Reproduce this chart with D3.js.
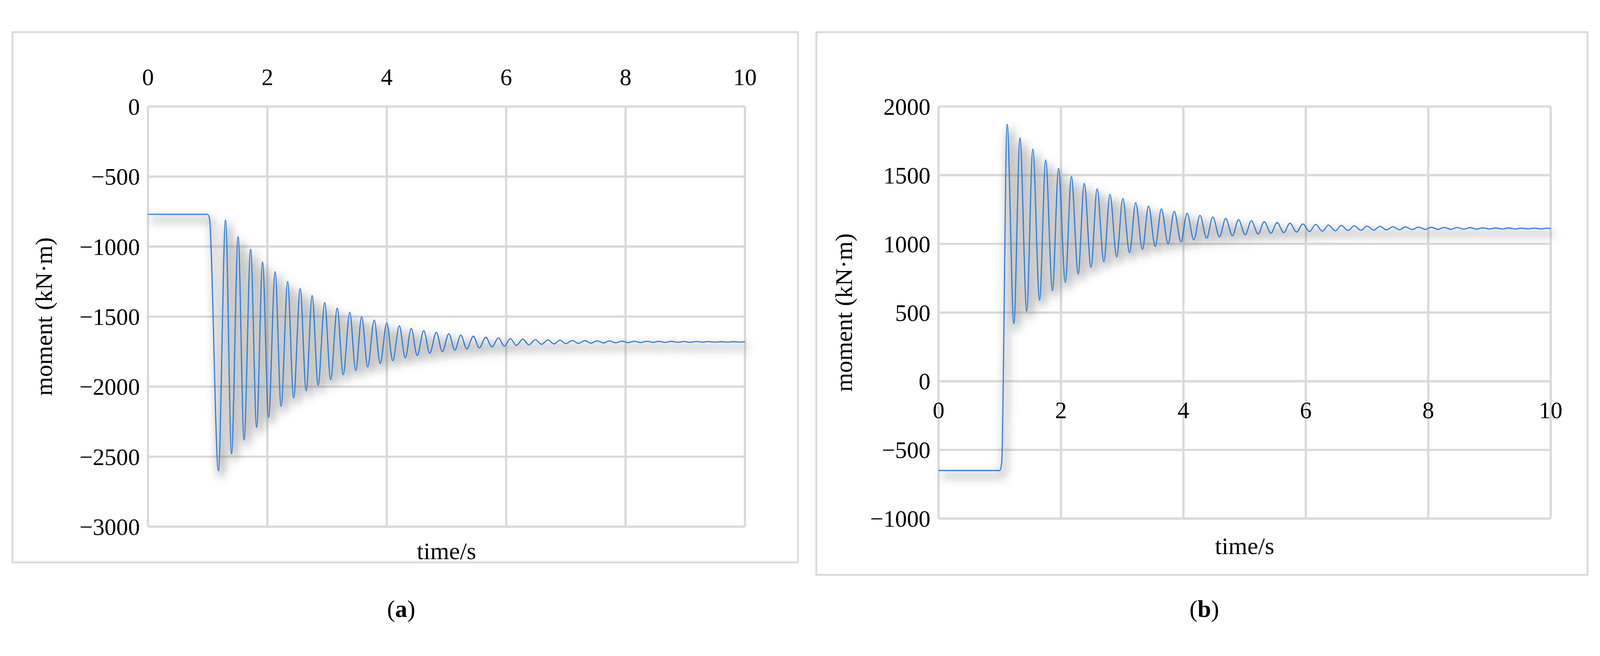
<!DOCTYPE html>
<html><head><meta charset="utf-8">
<script src="https://cdn.jsdelivr.net/npm/d3@7"></script>
<style>html,body{margin:0;padding:0;background:#fff;overflow:hidden}svg{display:block;width:100vw;height:100vh}text{font-family:"Liberation Serif","DejaVu Serif",serif;fill:#000}</style>
</head><body><svg id="c" viewBox="0 0 4347 1680" preserveAspectRatio="xMidYMid meet"></svg>
<script>
// ---- data ----
const xTicks=[0,2,4,6,8,10];
const yTicksA=[0,-500,-1000,-1500,-2000,-2500,-3000];
const yTicksB=[2000,1500,1000,500,0,-500,-1000];
// panel (a)
const preA_t=[0,1.0,1.03], preA_v=[-770,-770,-800];
const troughA_t=[1.18,1.40,1.61,1.82,2.02,2.23,2.44,2.65,2.85,3.06,3.27,3.48,3.68,3.89,4.10,4.31,4.51,4.72,4.93,5.14,5.34,5.55,5.76,5.97,6.17,6.38,6.59,6.80,7.00,7.21,7.42,7.63,7.83,8.04,8.25,8.46,8.66,8.87,9.08,9.29,9.49,9.70,9.91];
const troughA_v=[-2600,-2480,-2380,-2290,-2220,-2140,-2080,-2030,-1990,-1950,-1915,-1885,-1860,-1835,-1815,-1795,-1778,-1763,-1750,-1740,-1731,-1723,-1717,-1711,-1706,-1702,-1698,-1695,-1693,-1691,-1689,-1688,-1687,-1686,-1685,-1684,-1684,-1683,-1683,-1682,-1682,-1682,-1682];
const peakA_t=[1.30,1.51,1.72,1.92,2.13,2.34,2.55,2.75,2.96,3.17,3.38,3.58,3.79,4.00,4.21,4.41,4.62,4.83,5.04,5.24,5.45,5.66,5.87,6.07,6.28,6.49,6.70,6.90,7.11,7.32,7.53,7.73,7.94,8.15,8.36,8.56,8.77,8.98,9.19,9.39,9.60,9.81];
const peakA_v=[-810,-930,-1020,-1110,-1180,-1250,-1300,-1350,-1400,-1440,-1470,-1500,-1525,-1545,-1565,-1585,-1600,-1612,-1622,-1632,-1640,-1647,-1652,-1657,-1661,-1664,-1667,-1669,-1671,-1672,-1673,-1674,-1675,-1676,-1676,-1677,-1677,-1678,-1678,-1678,-1679,-1679];
const endA_t=[10], endA_v=[-1680];
// panel (b)
const preB_t=[0,1.0,1.03], preB_v=[-650,-650,-600];
const peakB_t=[1.12,1.33,1.54,1.75,1.96,2.17,2.38,2.59,2.80,3.01,3.22,3.43,3.64,3.85,4.06,4.27,4.48,4.69,4.90,5.11,5.32,5.53,5.74,5.95,6.16,6.37,6.58,6.79,7.00,7.21,7.42,7.63,7.84,8.05,8.26,8.47,8.68,8.89,9.10,9.31,9.52,9.73,9.94];
const peakB_v=[1870,1770,1690,1610,1550,1490,1440,1400,1360,1330,1300,1275,1255,1238,1222,1208,1196,1185,1176,1168,1161,1155,1150,1145,1141,1137,1134,1131,1129,1127,1125,1123,1122,1121,1120,1119,1118,1117,1116,1116,1115,1115,1114];
const troughB_t=[1.23,1.44,1.65,1.86,2.07,2.28,2.49,2.70,2.91,3.12,3.33,3.54,3.75,3.96,4.17,4.38,4.59,4.80,5.01,5.22,5.43,5.64,5.85,6.06,6.27,6.48,6.69,6.90,7.11,7.32,7.53,7.74,7.95,8.16,8.37,8.58,8.79,9.00,9.21,9.42,9.63,9.84];
const troughB_v=[420,510,590,660,720,780,830,870,905,935,960,982,1000,1015,1029,1041,1051,1059,1066,1072,1077,1082,1086,1089,1092,1095,1097,1099,1100,1102,1103,1104,1105,1106,1106,1107,1107,1108,1108,1108,1109,1109];
const endB_t=[10], endB_v=[1112];

function merge(...pairs){const p=[];pairs.forEach(([t,v])=>t.forEach((x,i)=>p.push([x,v[i]])));return p.sort((a,b)=>a[0]-b[0]);}
const dataA=merge([preA_t,preA_v],[troughA_t,troughA_v],[peakA_t,peakA_v],[endA_t,endA_v]);
const dataB=merge([preB_t,preB_v],[peakB_t,peakB_v],[troughB_t,troughB_v],[endB_t,endB_v]);

const svg=d3.select("#c");
const defs=svg.append("defs");
const f=defs.append("filter").attr("id","sh").attr("x","-10%").attr("y","-10%").attr("width","130%").attr("height","130%");
f.append("feGaussianBlur").attr("stdDeviation",13);

const grid="#d9d9d9";
function panel(o){
  svg.append("rect").attr("x",o.box[0]).attr("y",o.box[1]).attr("width",o.box[2]).attr("height",o.box[3]).attr("fill","none").attr("stroke",grid).attr("stroke-width",5);
  const x=d3.scaleLinear().domain([0,10]).range([o.l,o.r]);
  const y=d3.scaleLinear().domain(o.yd).range([o.b,o.t]);
  const g=svg.append("g");
  g.selectAll(".vg").data(xTicks).join("line").attr("x1",d=>x(d)).attr("x2",d=>x(d)).attr("y1",o.t).attr("y2",o.b).attr("stroke",grid).attr("stroke-width",6);
  g.selectAll(".hg").data(o.yt).join("line").attr("x1",o.l).attr("x2",o.r).attr("y1",d=>y(d)).attr("y2",d=>y(d)).attr("stroke",grid).attr("stroke-width",6);
  g.selectAll(".yl").data(o.yt).join("text").attr("x",o.l-22).attr("y",d=>y(d)).attr("dy","0.35em").attr("text-anchor","end").attr("font-size",64).text(d=>d<0?"\u2212"+(-d):d);
  g.selectAll(".xl").data(xTicks).join("text").attr("x",d=>x(d)).attr("y",o.xly).attr("text-anchor","middle").attr("font-size",64).text(d=>d);
  const line=d3.line().x(d=>x(d[0])).y(d=>y(d[1])).curve(d3.curveMonotoneX);
  g.append("path").datum(o.data).attr("d",line).attr("fill","none").attr("stroke","#555").attr("stroke-width",7).attr("opacity",0.75).attr("transform","translate(8,14)").attr("filter","url(#sh)");
  g.append("path").datum(o.data).attr("d",line).attr("fill","none").attr("stroke","#2b7bd6").attr("stroke-width",3);
  g.append("text").attr("transform",`translate(${o.ytx},${(o.t+o.b)/2}) rotate(-90)`).attr("text-anchor","middle").attr("dy","0.35em").attr("font-size",66).text("moment (kN·m)");
  g.append("text").attr("x",(o.l+o.r)/2).attr("y",o.xty).attr("text-anchor","middle").attr("font-size",66).text("time/s");
  const cap=g.append("text").attr("x",o.capx).attr("y",1625).attr("text-anchor","middle").attr("font-size",66);
  cap.append("tspan").text("(");cap.append("tspan").attr("font-weight","bold").text(o.cap);cap.append("tspan").text(")");
}
panel({box:[34,36,2134,1441],l:402,r:2024,t:238,b:1380,yd:[-3000,0],yt:yTicksA,data:dataA,xly:180,ytx:118,xty:1468,capx:1090,cap:"a"});
panel({box:[2218,36,2095,1475],l:2550,r:4213,t:238,b:1358,yd:[-1000,2000],yt:yTicksB,data:dataB,xly:1085,ytx:2292,xty:1455,capx:3272,cap:"b"});
</script></body></html>
